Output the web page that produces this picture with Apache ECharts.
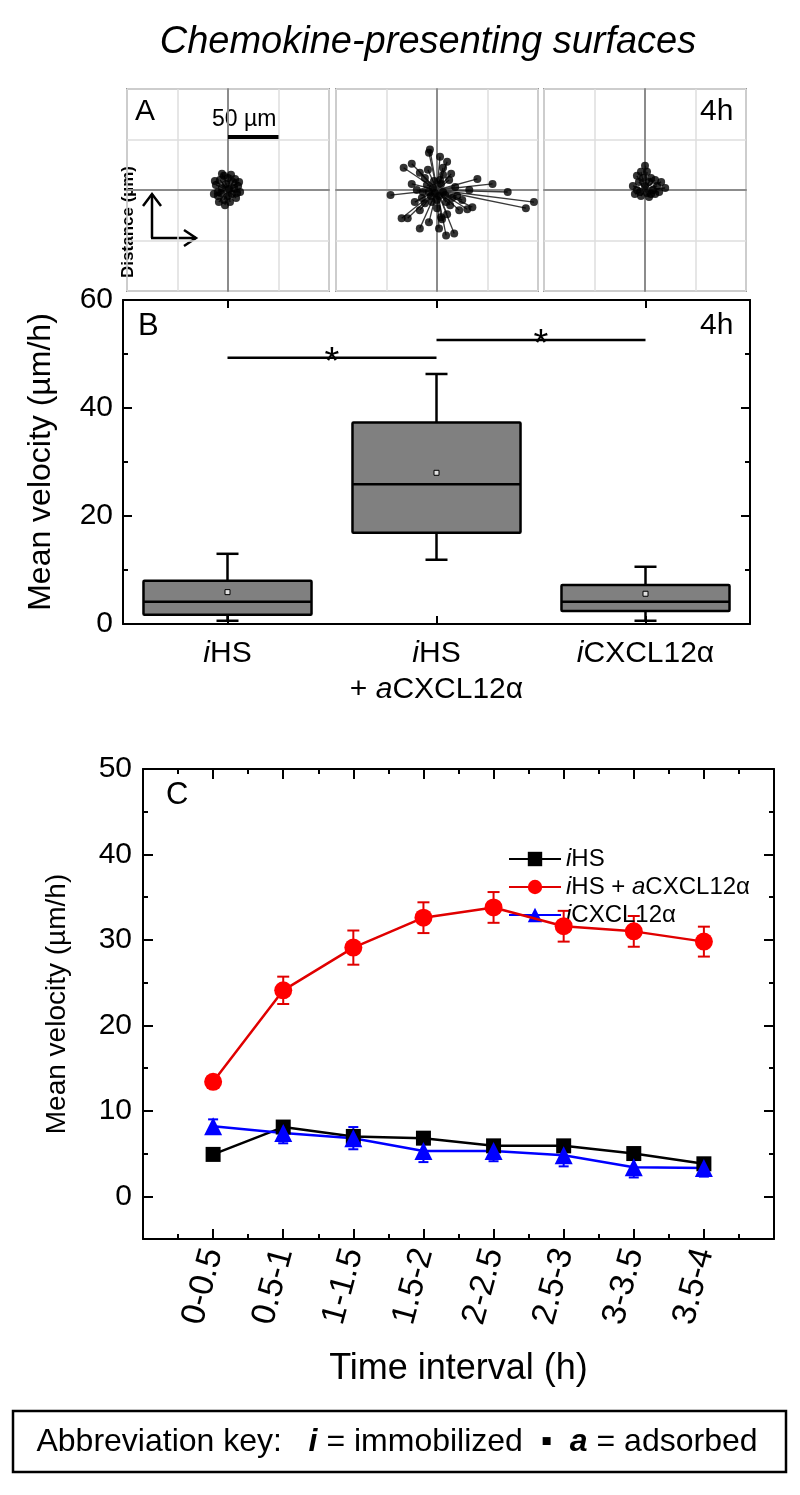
<!DOCTYPE html>
<html><head><meta charset="utf-8">
<script src="https://cdn.jsdelivr.net/npm/echarts@6/dist/echarts.min.js"></script>
<style>html,body{margin:0;padding:0;background:#fff}#c{width:800px;height:1495px}</style>
</head><body><div id="c"></div>
<script>
// ---------- Panel A: track end points (µm, start at origin) ----------
const tracksIHS = [[-12,5],[-10,-6],[-8,10],[-4,14],[0,12],[5,8],[10,4],[12,-2],[8,-8],[2,-12],[-4,-10],[-10,-2],[-6,2],[4,-4],[0,-6],[6,2],[-2,6],[-14,-4],[11,8],[-6,16],[-9,-12],[3,15],[9,-3],[-13,9],[7,11],[-3,-15],[1,1],[-7,-3]];
const tracksIHSaCXCL = [[-7,40],[-8,37],[-33,22],[-25,26],[10,28],[6,22],[40,11],[55,6],[70,-2],[96,-12],[88,-18],[32,0],[25,-10],[-25,6],[-46,-5],[-35,-28],[-29,-28],[-17,-38],[-8,-32],[2,-38],[9,-45],[17,-43],[4,-27],[13,-15],[22,-20],[30,-19],[35,-17],[5,-29],[-17,-20],[-12,-13],[3,33],[-17,17],[-10,5],[8,-5],[-5,-12],[12,10],[0,-18],[-15,-8],[6,15],[15,-8],[-12,12],[-20,0],[18,3],[-6,-6],[4,6],[-3,9],[9,-12],[-14,-2],[20,-6],[-9,20],[14,16],[0,-10],[-22,-12],[10,-24],[-4,2],[6,-2],[2,-6],[-8,-2],[3,10],[-2,-3]];
const tracksICXCL = [[0,24],[-8,14],[-12,4],[-10,-4],[-4,-6],[4,-7],[10,-4],[12,4],[16,8],[20,2],[6,12],[2,18],[-4,18],[8,0],[0,4],[-6,8],[4,8],[14,-2],[-2,12],[-8,0],[2,-3],[10,10],[-5,-2],[6,-4]];
const scaleBar = [[0,53],[50,53]];

// ---------- Panel B: box plot (µm/h) ----------
const boxCats = ['iHS', 'iHS + aCXCL12α', 'iCXCL12α'];
const boxMin  = [0.6, 11.9, 0.6];
const boxQ1   = [1.7, 16.9, 2.4];
const boxMed  = [4.1, 25.9, 4.1];
const boxQ3   = [8.0, 37.3, 7.2];
const boxMax  = [13.0, 46.3, 10.6];
const boxMean = [5.9, 28.0, 5.6];
const sigFrom = [0, 1];
const sigTo   = [1, 2];
const sigY    = [49.3, 52.6];
const sigText = ['*', '*'];

// ---------- Panel C: mean velocity vs time ----------
const timeLabels = ['0-0.5','0.5-1','1-1.5','1.5-2','2-2.5','2.5-3','3-3.5','3.5-4'];
const seriesNames = ['iHS', 'iHS + aCXCL12α', 'iCXCL12α'];
const velIHS   = [4.9, 8.1, 7.0, 6.8, 5.9, 5.9, 5.0, 3.8];
const velIHSa  = [13.4, 24.1, 29.1, 32.6, 33.8, 31.6, 31.0, 29.8];
const velICXCL = [8.2, 7.4, 6.8, 5.3, 5.3, 4.8, 3.4, 3.3];
const errIHS   = [0.4, 0.5, 0.5, 0.5, 0.5, 0.5, 0.5, 0.4];
const errIHSa  = [0.6, 1.6, 2.0, 1.8, 1.8, 1.8, 1.8, 1.75];
const errICXCL = [0.8, 1.2, 1.3, 1.3, 1.2, 1.3, 1.2, 1.0];

const FONT = "'Liberation Sans', Arial, Helvetica, sans-serif";
const NARROW = "'Liberation Sans Narrow', 'Arial Narrow', " + FONT;
const chart = echarts.init(document.getElementById('c'), null, {renderer: 'canvas'});

function trackAxis(i) {
  return {
    type: 'value', gridIndex: i, min: -100, max: 100, interval: 50,
    axisLine: {show: true, onZero: true, lineStyle: {color: '#8c8c8c', width: 2}},
    axisTick: {show: false}, axisLabel: {show: false},
    splitLine: {show: true, lineStyle: {color: '#dedede', width: 1.5}}
  };
}
const aGrids = [127, 336, 544].map(l => ({left: l, top: 89, width: 202, height: 202, show: true, borderColor: '#9a9a9a', borderWidth: 2, backgroundColor: '#fff'}));
const trackSets = [tracksIHS, tracksIHSaCXCL, tracksICXCL];

const italicRich = (fs) => ({i: {fontStyle: 'italic', fontSize: fs, fontFamily: FONT, color: '#000'}});
const catRich = {
  'iHS': '{i|i}HS',
  'iHS + aCXCL12α': '{i|i}HS\n+ {i|a}CXCL12α',
  'iCXCL12α': '{i|i}CXCL12α'
};

function errSeries(name, vals, errs, color, capW) {
  return {
    type: 'custom', name: name + ' err', xAxisIndex: 5, yAxisIndex: 5, z: 3,
    data: vals.map((v, i) => [i, v, errs[i]]),
    renderItem: function (params, api) {
      const x = api.value(0), y = api.value(1), e = api.value(2);
      const t = api.coord([x, y + e]), b = api.coord([x, y - e]);
      const st = {stroke: color, lineWidth: 2};
      return {type: 'group', children: [
        {type: 'line', shape: {x1: t[0], y1: t[1], x2: b[0], y2: b[1]}, style: st},
        {type: 'line', shape: {x1: t[0] - capW, y1: t[1], x2: t[0] + capW, y2: t[1]}, style: st},
        {type: 'line', shape: {x1: b[0] - capW, y1: b[1], x2: b[0] + capW, y2: b[1]}, style: st}
      ]};
    }
  };
}

const series = [];
trackSets.forEach((set, i) => {
  series.push({
    type: 'lines', coordinateSystem: 'cartesian2d', xAxisIndex: i, yAxisIndex: i, silent: true,
    data: set.map(p => ({coords: [[0, 0], p]})),
    lineStyle: {color: '#3a3a3a', width: 1.3, opacity: 1}
  });
  series.push({
    type: 'scatter', xAxisIndex: i, yAxisIndex: i, symbol: 'circle', symbolSize: 8, silent: true,
    data: set, itemStyle: {color: '#000'}
  });
});
series.push({
  type: 'lines', coordinateSystem: 'cartesian2d', xAxisIndex: 0, yAxisIndex: 0, silent: true,
  data: [{coords: scaleBar}], lineStyle: {color: '#000', width: 4, opacity: 1}
});

// Panel B boxes
series.push({
  type: 'custom', xAxisIndex: 3, yAxisIndex: 3, z: 5,
  data: boxCats.map((c, i) => [i, boxMin[i], boxQ1[i], boxMed[i], boxQ3[i], boxMax[i], boxMean[i]]),
  renderItem: function (params, api) {
    const ci = api.value(0);
    const band = api.size([1, 0])[0];
    const hw = band * 0.402;
    const cw = 11;
    const p = k => api.coord([ci, api.value(k)]);
    const mn = p(1), q1 = p(2), md = p(3), q3 = p(4), mx = p(5), mean = p(6);
    const cx = mn[0];
    const st = {stroke: '#000', lineWidth: 2.5};
    return {type: 'group', children: [
      {type: 'line', shape: {x1: cx, y1: q3[1], x2: cx, y2: mx[1]}, style: st},
      {type: 'line', shape: {x1: cx, y1: q1[1], x2: cx, y2: mn[1]}, style: st},
      {type: 'line', shape: {x1: cx - cw, y1: mx[1], x2: cx + cw, y2: mx[1]}, style: st},
      {type: 'line', shape: {x1: cx - cw, y1: mn[1], x2: cx + cw, y2: mn[1]}, style: st},
      {type: 'rect', shape: {x: cx - hw, y: q3[1], width: 2 * hw, height: q1[1] - q3[1], r: 1}, style: {fill: '#808080', stroke: '#000', lineWidth: 2.5}},
      {type: 'line', shape: {x1: cx - hw, y1: md[1], x2: cx + hw, y2: md[1]}, style: st},
      {type: 'rect', shape: {x: cx - 2.5, y: mean[1] - 2.5, width: 5, height: 5}, style: {fill: '#e0e0e0', stroke: '#000', lineWidth: 1}}
    ]};
  }
});
// Panel B significance bars
series.push({
  type: 'custom', xAxisIndex: 3, yAxisIndex: 3, z: 5,
  data: sigFrom.map((f, i) => [f, sigTo[i], sigY[i], i]),
  renderItem: function (params, api) {
    const a = api.coord([api.value(0), api.value(2)]);
    const b = api.coord([api.value(1), api.value(2)]);
    const idx = api.value(3);
    return {type: 'group', children: [
      {type: 'line', shape: {x1: a[0], y1: a[1], x2: b[0], y2: b[1]}, style: {stroke: '#000', lineWidth: 2.5}},
      {type: 'text', x: (a[0] + b[0]) / 2, y: a[1] + 6, style: {text: sigText[idx], fontSize: 38, fontFamily: FONT, fill: '#000', align: 'center', verticalAlign: 'middle'}}
    ]};
  }
});

// Panel C
series.push(errSeries(seriesNames[0], velIHS, errIHS, '#000', 6));
series.push(errSeries(seriesNames[1], velIHSa, errIHSa, '#e00000', 6));
series.push(errSeries(seriesNames[2], velICXCL, errICXCL, '#0000ff', 5));
const lineDefs = [
  {name: seriesNames[0], vals: velIHS, color: '#000', lc: '#000', symbol: 'rect', size: 15},
  {name: seriesNames[1], vals: velIHSa, color: '#ff0000', lc: '#e00000', symbol: 'circle', size: 18},
  {name: seriesNames[2], vals: velICXCL, color: '#0000ff', lc: '#0000ff', symbol: 'triangle', size: 18}
];
lineDefs.forEach(d => {
  series.push({
    type: 'line', name: d.name, xAxisIndex: 5, yAxisIndex: 5, z: 4,
    data: d.vals.map((v, i) => [i, v]),
    symbol: d.symbol, symbolSize: d.size, showAllSymbol: true,
    lineStyle: {color: d.lc, width: 2.5},
    itemStyle: {color: d.color},
    emphasis: {disabled: true}
  });
});

const axisBlack = {show: true, onZero: false, lineStyle: {color: '#000', width: 2}};
const labelStyle = (fs) => ({color: '#000', fontSize: fs, fontFamily: FONT});

const option = {
  animation: false,
  backgroundColor: '#fff',
  textStyle: {fontFamily: FONT},
  grid: [...aGrids,
    {left: 123, top: 300, width: 627, height: 324, show: false},
    {left: 143, top: 769, width: 631, height: 470, show: false}
  ],
  xAxis: [
    trackAxis(0), trackAxis(1), trackAxis(2),
    {type: 'category', gridIndex: 3, data: boxCats, position: 'bottom', boundaryGap: true,
      axisLine: axisBlack, axisTick: {show: true, inside: true, alignWithLabel: true, length: 8, lineStyle: {width: 2}},
      axisLabel: Object.assign(labelStyle(30), {interval: 0, margin: 12, lineHeight: 36, formatter: v => catRich[v], rich: italicRich(30)}),
      splitLine: {show: false}},
    {type: 'category', gridIndex: 3, data: boxCats, position: 'top', boundaryGap: true,
      axisLine: axisBlack, axisTick: {show: true, inside: true, alignWithLabel: true, length: 8, lineStyle: {width: 2}},
      axisLabel: {show: false}, splitLine: {show: false}},
    {type: 'value', gridIndex: 4, min: -1, max: 8, interval: 1, position: 'bottom',
      axisLine: axisBlack, axisTick: {show: true, inside: true, length: 10, lineStyle: {width: 2}},
      minorTick: {show: true, splitNumber: 2, length: 5, lineStyle: {width: 2, color: '#000'}},
      axisLabel: Object.assign(labelStyle(34), {rotate: 75, margin: 10, formatter: v => (timeLabels[v] || '')}),
      splitLine: {show: false}, minorSplitLine: {show: false},
      name: 'Time interval (h)', nameLocation: 'middle', nameGap: 112,
      nameTextStyle: {color: '#000', fontSize: 36, fontFamily: FONT}},
    {type: 'value', gridIndex: 4, min: -1, max: 8, interval: 1, position: 'top',
      axisLine: axisBlack, axisTick: {show: true, inside: true, length: 10, lineStyle: {width: 2}},
      minorTick: {show: true, splitNumber: 2, length: 5, lineStyle: {width: 2, color: '#000'}},
      axisLabel: {show: false}, splitLine: {show: false}}
  ],
  yAxis: [
    trackAxis(0), trackAxis(1), trackAxis(2),
    {type: 'value', gridIndex: 3, min: 0, max: 60, interval: 20, position: 'left',
      axisLine: axisBlack, axisTick: {show: true, inside: true, length: 9, lineStyle: {width: 2}},
      minorTick: {show: true, splitNumber: 2, length: 5, lineStyle: {width: 2, color: '#000'}},
      axisLabel: Object.assign(labelStyle(30), {margin: 10}),
      splitLine: {show: false},
      name: 'Mean velocity (µm/h)', nameLocation: 'middle', nameGap: 66,
      nameTextStyle: {color: '#000', fontSize: 32, fontFamily: FONT}},
    {type: 'value', gridIndex: 3, min: 0, max: 60, interval: 20, position: 'right',
      axisLine: axisBlack, axisTick: {show: true, inside: true, length: 9, lineStyle: {width: 2}},
      minorTick: {show: true, splitNumber: 2, length: 5, lineStyle: {width: 2, color: '#000'}},
      axisLabel: {show: false}, splitLine: {show: false}},
    {type: 'value', gridIndex: 4, min: -5, max: 50, interval: 5, position: 'left',
      axisLine: axisBlack, axisTick: {show: true, inside: true, length: 5, lineStyle: {width: 2}},
      axisLabel: Object.assign(labelStyle(30), {margin: 11, formatter: v => (v % 10 === 0 ? String(v) : '')}),
      splitLine: {show: false},
      name: 'Mean velocity (µm/h)', nameLocation: 'middle', nameGap: 72,
      nameTextStyle: {color: '#000', fontSize: 28, fontFamily: FONT}},
    {type: 'value', gridIndex: 4, min: -5, max: 50, position: 'left',
      axisLine: {show: false, onZero: false}, axisTick: {show: true, inside: true, length: 10, customValues: [0, 10, 20, 30, 40, 50], lineStyle: {width: 2, color: '#000'}},
      axisLabel: {show: false}, splitLine: {show: false}},
    {type: 'value', gridIndex: 4, min: -5, max: 50, interval: 5, position: 'right',
      axisLine: axisBlack, axisTick: {show: true, inside: true, length: 5, lineStyle: {width: 2}},
      axisLabel: {show: false}, splitLine: {show: false}},
    {type: 'value', gridIndex: 4, min: -5, max: 50, position: 'right',
      axisLine: {show: false, onZero: false}, axisTick: {show: true, inside: true, length: 10, customValues: [0, 10, 20, 30, 40, 50], lineStyle: {width: 2, color: '#000'}},
      axisLabel: {show: false}, splitLine: {show: false}}
  ],
  legend: {
    data: seriesNames, orient: 'vertical', left: 503, top: 842,
    itemWidth: 52, itemHeight: 18, itemGap: 4, selectedMode: false,
    textStyle: {color: '#000', fontSize: 24, fontFamily: FONT, rich: italicRich(24)},
    formatter: n => catRich[n].replace('\n', ' ')
  },
  series: series,
  graphic: [
    {type: 'text', x: 428, y: 42, style: {text: 'Chemokine-presenting surfaces', fontSize: 38, fontStyle: 'italic', fontFamily: FONT, fill: '#000', align: 'center', verticalAlign: 'middle'}},
    {type: 'text', x: 135, y: 97, style: {text: 'A', fontSize: 30, fontFamily: FONT, fill: '#000'}},
    {type: 'text', x: 212, y: 108, style: {text: '50 µm', fontSize: 23, fontFamily: FONT, fill: '#000'}},
    {type: 'text', x: 700, y: 97, style: {text: '4h', fontSize: 30, fontFamily: FONT, fill: '#000'}},
    {type: 'text', x: 128, y: 222, rotation: Math.PI / 2, style: {text: 'Distance (µm)', fontSize: 17, fontWeight: 'bold', fontFamily: FONT, fill: '#000', align: 'center', verticalAlign: 'middle'}},
    {type: 'polyline', shape: {points: [[152, 238], [152, 194]]}, style: {stroke: '#000', lineWidth: 2.5, fill: null}},
    {type: 'polyline', shape: {points: [[143, 206], [152, 194], [161, 206]]}, style: {stroke: '#000', lineWidth: 2.5, fill: null}},
    {type: 'polyline', shape: {points: [[151, 238], [196, 238]]}, style: {stroke: '#000', lineWidth: 2.5, fill: null}},
    {type: 'polyline', shape: {points: [[184, 230], [196, 238], [184, 246]]}, style: {stroke: '#000', lineWidth: 2.5, fill: null}},
    {type: 'text', x: 138, y: 311, style: {text: 'B', fontSize: 31, fontFamily: FONT, fill: '#000'}},
    {type: 'text', x: 700, y: 311, style: {text: '4h', fontSize: 30, fontFamily: FONT, fill: '#000'}},
    {type: 'text', x: 166, y: 780, style: {text: 'C', fontSize: 31, fontFamily: FONT, fill: '#000'}},
    {type: 'rect', shape: {x: 13, y: 1411, width: 773, height: 61}, style: {fill: '#fff', stroke: '#000', lineWidth: 2.5}},
    {type: 'text', x: 397, y: 1442, style: {
      text: 'Abbreviation key:   {b|i} = immobilized  ▪  {b|a} = adsorbed',
      fontSize: 32, fontFamily: NARROW, fill: '#000', align: 'center', verticalAlign: 'middle',
      rich: {b: {fontWeight: 'bold', fontStyle: 'italic', fontSize: 32, fontFamily: NARROW}}
    }}
  ]
};
chart.setOption(option);
</script>
</body></html>
